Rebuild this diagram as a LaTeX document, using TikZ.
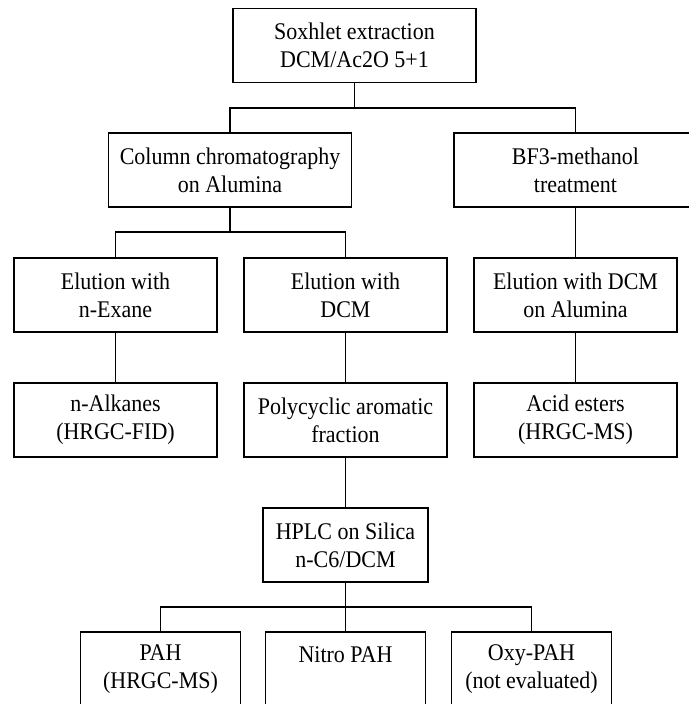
\documentclass[tikz,border=0pt]{standalone}
\usepackage{fontspec}
\setmainfont{Liberation Serif}[FakeStretch=0.92]
\usepackage{tikz}

\begin{document}
\begin{tikzpicture}[
        stepbox/.style={draw, line width=0.85pt, align=center, inner sep=0pt,
            minimum height=1.48cm, font=\fontsize{13.6}{16.1}\selectfont},
        widebox/.style={stepbox, minimum width=4.86cm},
        midbox/.style={stepbox, minimum width=4.06cm},
        smallbox/.style={stepbox, minimum width=3.2cm},
        link/.style={line width=0.85pt}
    ]
        \useasboundingbox (0,0) rectangle (13.78,-14.08);

        %Boxes
        \node[widebox] (soxhlet) at (7.09, -0.91) {Soxhlet extraction\\DCM/Ac2O 5+1};
        \node[widebox] (column) at (4.60, -3.40) {Column chromatography\\on Alumina};
        \node[widebox] (bf3) at (11.51, -3.40) {BF3-methanol\\treatment};

        \node[midbox] (hexane) at (2.31, -5.90) {Elution with\\n-Exane};
        \node[midbox] (dcm) at (6.91, -5.90) {Elution with\\DCM};
        \node[midbox] (dcmal) at (11.51, -5.90) {Elution with DCM\\on Alumina};

        \node[midbox] (alkanes) at (2.31, -8.40) {n-Alkanes\\(HRGC-FID)};
        \node[midbox] (pac) at (6.91, -8.40) {Polycyclic aromatic\\fraction};
        \node[midbox] (esters) at (11.51, -8.40) {Acid esters\\(HRGC-MS)};

        \node[stepbox, minimum width=3.3cm] (hplc) at (6.91, -10.90) {HPLC on Silica\\n-C6/DCM};

        \node[smallbox] (pah) at (3.21, -13.38) {PAH\\(HRGC-MS)};
        \node[smallbox] (nitro) at (6.91, -13.38) {Nitro PAH\\~};
        \node[smallbox] (oxy) at (10.63, -13.38) {Oxy-PAH\\(not evaluated)};

        %Junctions
        \coordinate (j1) at (0, -2.16);
        \coordinate (j2) at (0, -4.64);
        \coordinate (j3) at (0, -12.14);

        %Connectors
        \draw[link] (soxhlet.south) -- (soxhlet.south |- j1);
        \draw[link] (column.north) -- (column.north |- j1) -| (bf3.north);

        \draw[link] (column.south) -- (column.south |- j2);
        \draw[link] (hexane.north) -- (hexane.north |- j2) -| (dcm.north);
        \draw[link] (bf3.south) -- (dcmal.north);

        \draw[link] (hexane.south) -- (alkanes.north);
        \draw[link] (dcm.south) -- (pac.north);
        \draw[link] (dcmal.south) -- (esters.north);

        \draw[link] (pac.south) -- (hplc.north);

        \draw[link] (hplc.south) -- (hplc.south |- j3);
        \draw[link] (pah.north) -- (pah.north |- j3) -| (oxy.north);
        \draw[link] (nitro.north) -- (nitro.north |- j3);

    \end{tikzpicture}
\end{document}
